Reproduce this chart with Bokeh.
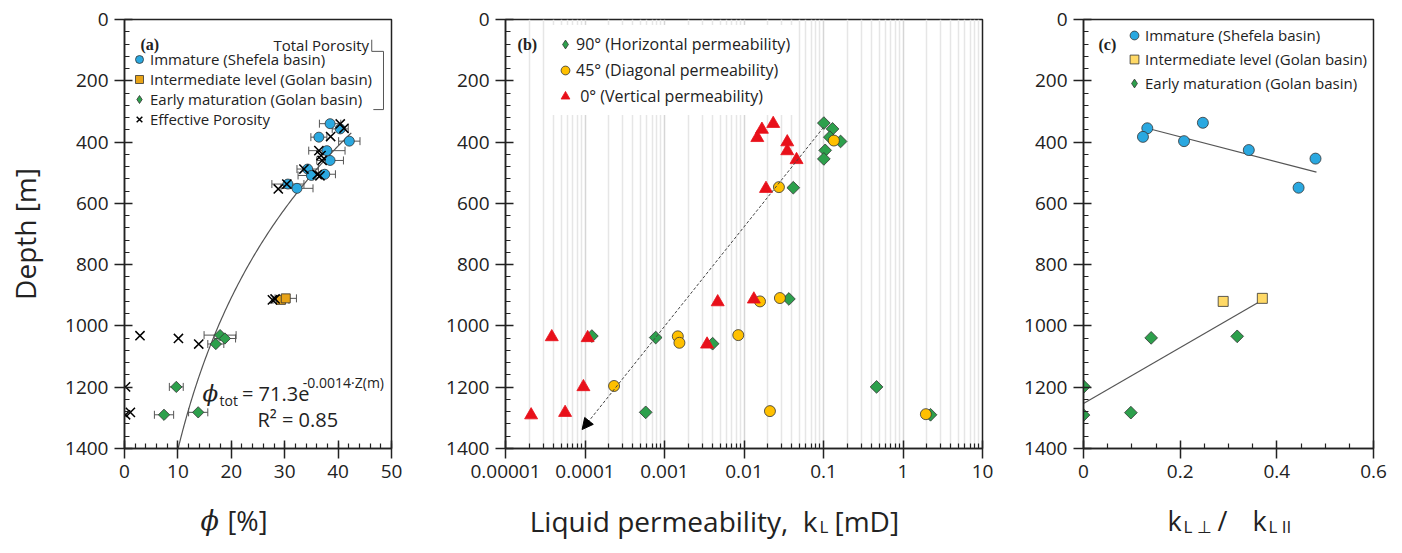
import numpy as np
from bokeh.plotting import figure
from bokeh.layouts import row, column
from bokeh.models import (ColumnDataSource, Range1d, Whisker, TeeHead, Legend, LegendItem,
                          Label, Arrow, NormalHead, SingleIntervalTicker, FixedTicker,
                          CustomJSTickFormatter)
from bokeh.embed import file_html
from bokeh.resources import INLINE

# ---------------- data: panel (a) porosity ----------------
imm_phi = [38.5, 40.4, 36.4, 42.1, 37.9, 38.5, 34.3, 35.0, 37.5, 30.6, 32.3]
imm_depth = [340, 357, 384, 397, 428, 460, 488, 509, 505, 537, 551]
imm_err = [2.0, 1.5, 1.5, 2.0, 3.4, 2.5, 2.0, 2.5, 2.0, 3.0, 3.0]
int_phi = [29.3, 30.2]
int_depth = [915, 910]
int_err = [1.5, 2.0]
early_phi = [17.9, 18.8, 17.1, 9.7, 7.4, 13.8]
early_depth = [1030, 1041, 1059, 1199, 1290, 1282]
early_err = [3.0, 2.0, 1.5, 1.3, 1.8, 1.8]
eff_phi = [40.4, 41.1, 38.6, 36.4, 36.8, 37.0, 33.6, 36.1, 36.6, 30.4, 28.8, 27.7, 28.2,
           2.9, 10.1, 13.9, 0.2, 1.1, 0.2]
eff_depth = [341, 355, 382, 428, 444, 460, 488, 506, 510, 537, 553, 915, 912,
             1032, 1041, 1059, 1199, 1282, 1290]
fit_a = 71.3
fit_b = 0.0014
fit_depth_start = 370
fit_depth_end = 1400

# ---------------- data: panel (b) permeability ----------------
h_k = [0.101, 0.130, 0.120, 0.164, 0.105, 0.101, 0.0417, 0.0367, 1.22e-4, 7.75e-4,
       4.03e-3, 0.465, 5.8e-4, 2.22]
h_depth = [338, 357, 384, 398, 427, 455, 549, 912, 1033, 1038, 1058, 1199, 1282, 1290]
d_k = [0.135, 0.0275, 0.0159, 0.0283, 1.47e-3, 1.54e-3, 8.47e-3, 2.32e-4, 0.0212, 1.94]
d_depth = [395, 547, 920, 909, 1034, 1055, 1030, 1196, 1278, 1288]
v_k = [0.0233, 0.0168, 0.0147, 0.035, 0.035, 0.0458, 0.0189, 0.0133, 4.67e-3, 3.82e-5,
       1.08e-4, 3.43e-3, 9.55e-5, 5.62e-5, 2.1e-5]
v_depth = [340, 359, 386, 400, 429, 458, 552, 913, 922, 1036, 1039, 1060, 1199, 1283, 1291]
trend_k = [0.1, 9.2e-5]
trend_depth = [352, 1338]
xb_ticks = [1e-5, 1e-4, 1e-3, 1e-2, 1e-1, 1, 10]
xb_labels = ["0.00001", "0.0001", "0.001", "0.01", "0.1", "1", "10"]

# ---------------- data: panel (c) anisotropy ratio ----------------
c_imm_ratio = [0.132, 0.123, 0.247, 0.208, 0.342, 0.480, 0.445]
c_imm_depth = [355, 383, 337, 397, 426, 454, 549]
c_int_ratio = [0.289, 0.370]
c_int_depth = [920, 910]
c_early_ratio = [0.140, 0.318, 0.001, 0.0, 0.098]
c_early_depth = [1039, 1034, 1198, 1291, 1283]
c_trend1_ratio = [0.132, 0.482]
c_trend1_depth = [355, 498]
c_trend2_ratio = [0.0, 0.373]
c_trend2_depth = [1253, 913]
xc_ticks = [0.0, 0.2, 0.4, 0.6]

BLUE = "#2AA8E0"
ORANGE_A = "#E8A317"
GREEN = "#2DA04C"
GOLD = "#FFC000"
RED = "#E8101A"
YELLOW = "#FFD966"
EDGE = "#333333"
FONT = "Open Sans"
INK = "#222222"
MAIN_H = 493
STRIP_H = 60
DIAMOND = dict(marker="square", angle=np.pi / 4)


def base_fig(width, bl, br, x_range, x_axis_type="linear"):
    p = figure(width=width, height=MAIN_H, x_range=x_range, y_range=Range1d(1400, 0),
               x_axis_type=x_axis_type, output_backend="svg", toolbar_location=None,
               min_border_left=bl, min_border_right=br, min_border_top=19,
               min_border_bottom=MAIN_H - 19 - 429)
    p.outline_line_color = INK
    p.outline_line_width = 1.5
    p.background_fill_color = "white"
    p.border_fill_color = "white"
    p.grid.visible = False
    for ax in p.axis:
        ax.axis_line_color = INK
        ax.axis_line_width = 1.5
        ax.major_tick_line_color = INK
        ax.major_tick_line_width = 1.5
        ax.major_tick_in = 8
        ax.major_tick_out = 10
        ax.minor_tick_line_color = INK
        ax.minor_tick_line_width = 1.2
        ax.minor_tick_in = 5
        ax.minor_tick_out = 0
        ax.major_label_text_font = FONT
        ax.major_label_text_font_size = "19px"
        ax.major_label_text_color = INK
        ax.major_label_standoff = 6
    p.yaxis.ticker = SingleIntervalTicker(interval=200, num_minor_ticks=5)
    return p


def strip(width):
    s = figure(width=width, height=STRIP_H, x_range=Range1d(0, width),
               y_range=Range1d(STRIP_H, 0), output_backend="svg", toolbar_location=None,
               x_axis_location=None, y_axis_location=None, min_border=0)
    s.grid.visible = False
    s.outline_line_color = None
    s.background_fill_color = "white"
    s.border_fill_color = "white"
    return s


def lab(p, text, x, y, size, align="left", style="normal", font=FONT, color=INK):
    p.add_layout(Label(x=x, y=y, text=text, text_font=font, text_font_size=size,
                       text_font_style=style, text_align=align, text_color=color,
                       text_baseline="alphabetic"))


def diamond_key(p):
    # legend swatch only (NaN position, never drawn in the plot area):
    # Bokeh legends ignore marker rotation, so use the diamond marker here
    return p.scatter([np.nan], [np.nan], marker="diamond", size=10, fill_color=GREEN,
                     line_color=EDGE, line_width=0.8)


# ================= Panel (a) =================
pa = base_fig(430, 124, 39, Range1d(0, 50))
pa.xaxis.ticker = SingleIntervalTicker(interval=10, num_minor_ticks=5)
pa.yaxis.axis_label = "Depth [m]"
pa.yaxis.axis_label_text_font = FONT
pa.yaxis.axis_label_text_font_size = "28px"
pa.yaxis.axis_label_text_font_style = "normal"
pa.yaxis.axis_label_text_color = INK
pa.yaxis.axis_label_standoff = 18

zfit = np.linspace(fit_depth_start, fit_depth_end, 120)
pa.line(fit_a * np.exp(-fit_b * zfit), zfit, line_color="#555555", line_width=1.2)

src_imm = ColumnDataSource(dict(x=imm_phi, y=imm_depth,
                                lo=np.array(imm_phi) - np.array(imm_err),
                                hi=np.array(imm_phi) + np.array(imm_err)))
src_int = ColumnDataSource(dict(x=int_phi, y=int_depth,
                                lo=np.array(int_phi) - np.array(int_err),
                                hi=np.array(int_phi) + np.array(int_err)))
src_early = ColumnDataSource(dict(x=early_phi, y=early_depth,
                                  lo=np.array(early_phi) - np.array(early_err),
                                  hi=np.array(early_phi) + np.array(early_err)))
for s in (src_imm, src_int, src_early):
    pa.add_layout(Whisker(source=s, base="y", lower="lo", upper="hi", dimension="width",
                          line_color="#555555", line_width=1,
                          lower_head=TeeHead(size=8, line_color="#555555", line_width=1),
                          upper_head=TeeHead(size=8, line_color="#555555", line_width=1)))

r_imm = pa.scatter("x", "y", source=src_imm, marker="circle", size=10, fill_color=BLUE,
                   line_color=EDGE, line_width=0.8)
r_int = pa.scatter("x", "y", source=src_int, marker="square", size=9, fill_color=ORANGE_A,
                   line_color=EDGE, line_width=0.8)
r_early = pa.scatter("x", "y", source=src_early, size=8, fill_color=GREEN,
                     line_color=EDGE, line_width=0.8, **DIAMOND)
r_eff = pa.scatter(eff_phi, eff_depth, marker="x", size=13, line_color="black", line_width=1.5)

legA = Legend(items=[LegendItem(label="Immature (Shefela basin)", renderers=[r_imm]),
                     LegendItem(label="Intermediate level (Golan basin)", renderers=[r_int]),
                     LegendItem(label="Early maturation (Golan basin)",
                                renderers=[diamond_key(pa)]),
                     LegendItem(label="Effective Porosity", renderers=[r_eff])],
              location=(0, 314), glyph_width=20, glyph_height=20, label_height=20,
              spacing=0, padding=5, label_standoff=1, label_text_font=FONT,
              label_text_font_size="15px", label_text_color=INK,
              background_fill_alpha=0, border_line_alpha=0)
pa.add_layout(legA)

lab(pa, "(a)", 3.0, 82, "16px", style="bold", font="Liberation Serif")
lab(pa, "Total Porosity", 45.8, 82, "15px", align="right")
# bracket grouping total-porosity entries
pa.line([46.3, 46.3, 48.5, 48.5, 46.6], [66, 104, 104, 294, 294], line_color="#555555",
        line_width=1)

# fit equation
lab(pa, "\u03d5", 14.6, 1220, "23px", style="italic", font="DejaVu Serif")
lab(pa, "tot", 17.8, 1243, "14px")
lab(pa, "= 71.3e", 22.0, 1220, "20px")
lab(pa, "-0.0014\u00b7Z(m)", 33.4, 1185, "14px")
lab(pa, "R\u00b2 = 0.85", 24.9, 1305, "20px")

sa = strip(430)
lab(sa, "\u03d5", 200, 27, "27px", style="italic", font="DejaVu Serif")
lab(sa, "[%]", 227, 27, "27px")

# ================= Panel (b) =================
pb = base_fig(580, 75, 28, Range1d(1e-5, 10), x_axis_type="log")
minor_b = [m * 10.0 ** e for e in range(-5, 1) for m in range(2, 10)]
pb.xaxis.ticker = FixedTicker(ticks=xb_ticks, minor_ticks=minor_b)
pb.xaxis.formatter = CustomJSTickFormatter(args=dict(tk=xb_ticks, lb=xb_labels), code="""
let best = 0; let bd = Infinity;
for (let i = 0; i < tk.length; i++) {
  const d = Math.abs(Math.log10(tick) - Math.log10(tk[i]));
  if (d < bd) { bd = d; best = i; }
}
return lb[best];
""")
pb.xgrid.visible = True
pb.xgrid.grid_line_color = "#d6d6d6"
pb.xgrid.grid_line_width = 1.5
pb.xgrid.minor_grid_line_color = "#e6e6e6"
pb.xgrid.minor_grid_line_width = 1.5

pb.add_layout(Arrow(x_start=trend_k[0], y_start=trend_depth[0], x_end=trend_k[1],
                    y_end=trend_depth[1], line_color="#444444", line_width=1,
                    line_dash="3 2",
                    end=NormalHead(size=11, fill_color="black", line_color="black",
                                   line_width=1)))

r_h = pb.scatter(h_k, h_depth, size=9, fill_color=GREEN,
                 line_color=EDGE, line_width=0.8, **DIAMOND)
r_d = pb.scatter(d_k, d_depth, marker="circle", size=11, fill_color=GOLD,
                 line_color=EDGE, line_width=0.8)
r_v = pb.scatter(v_k, v_depth, marker="triangle", size=13, fill_color=RED,
                 line_color=RED, line_width=0.8)

legB = Legend(items=[LegendItem(label="90\u00b0 (Horizontal permeability)",
                                renderers=[diamond_key(pb)]),
                     LegendItem(label="45\u00b0 (Diagonal permeability)", renderers=[r_d]),
                     LegendItem(label="\u00a00\u00b0 (Vertical permeability)", renderers=[r_v])],
              location=(43, 333), glyph_width=22, glyph_height=22, label_height=26,
              spacing=0, padding=6, label_standoff=0, label_text_font=FONT,
              label_text_font_size="16px", label_text_color=INK,
              background_fill_color="white", background_fill_alpha=1,
              border_line_alpha=0)
pb.add_layout(legB)
lab(pb, "(b)", 1.42e-5, 82, "16px", style="bold", font="Liberation Serif")

sb = strip(580)
lab(sb, "Liquid permeability,\u00a0 k", 387, 27, "28px", align="right")
lab(sb, "L", 389, 33, "17px")
lab(sb, "[mD]", 404, 27, "28px")

# ================= Panel (c) =================
pc = base_fig(392, 73, 29, Range1d(0, 0.6))
minor_c = [t + 0.05 * j for t in xc_ticks[:-1] for j in (1, 2, 3)]
pc.xaxis.ticker = FixedTicker(ticks=xc_ticks, minor_ticks=minor_c)
pc.xaxis.major_label_overrides = {0: "0"}

pc.line(c_trend1_ratio, c_trend1_depth, line_color="#555555", line_width=1.2)
pc.line(c_trend2_ratio, c_trend2_depth, line_color="#555555", line_width=1.2)
r_ci = pc.scatter(c_imm_ratio, c_imm_depth, marker="circle", size=11, fill_color=BLUE,
                  line_color=EDGE, line_width=0.8)
r_cm = pc.scatter(c_int_ratio, c_int_depth, marker="square", size=10, fill_color=YELLOW,
                  line_color=EDGE, line_width=0.8)
r_ce = pc.scatter(c_early_ratio, c_early_depth, size=9, fill_color=GREEN,
                  line_color=EDGE, line_width=0.8, **DIAMOND)

legC = Legend(items=[LegendItem(label="Immature (Shefela basin)", renderers=[r_ci]),
                     LegendItem(label="Intermediate level (Golan basin)", renderers=[r_cm]),
                     LegendItem(label="Early maturation (Golan basin)",
                                renderers=[diamond_key(pc)])],
              location=(36, 349), glyph_width=22, glyph_height=22, label_height=24,
              spacing=0, padding=4, label_standoff=0, label_text_font=FONT,
              label_text_font_size="15px", label_text_color=INK,
              background_fill_alpha=0, border_line_alpha=0)
pc.add_layout(legC)
lab(pc, "(c)", 0.031, 82, "16px", style="bold", font="Liberation Serif")

sc = strip(392)
lab(sc, "k", 157, 27, "27px")
lab(sc, "L \u22a5", 173, 33, "17px")
lab(sc, "/", 207, 27, "27px")
lab(sc, "k", 242, 27, "27px")
lab(sc, "L II", 258, 33, "17px")

layout = column(row(pa, pb, pc), row(sa, sb, sc))
open("out.html", "w").write(file_html(layout, INLINE))
